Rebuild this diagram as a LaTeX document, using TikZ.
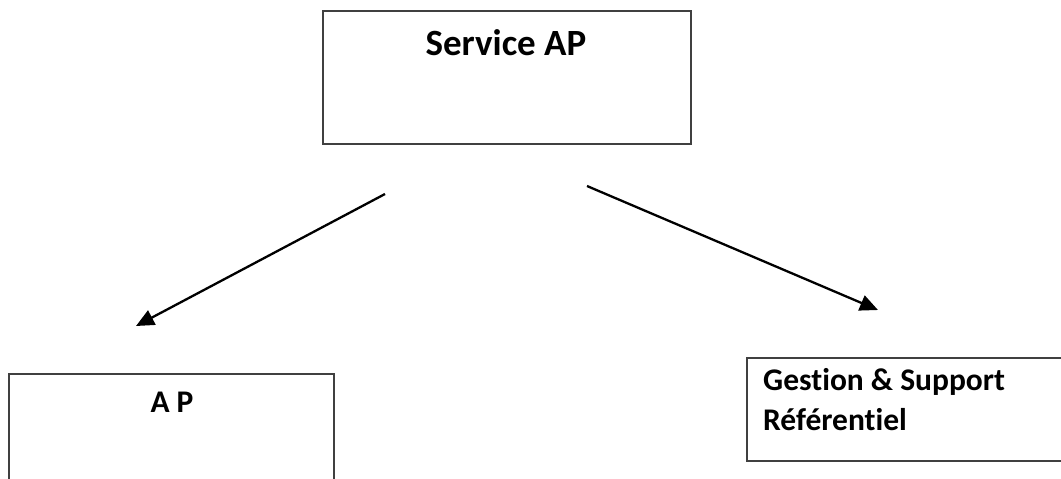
\documentclass[tikz,border=0pt]{standalone}
\usepackage{fontspec}
\setmainfont{Carlito}[Ligatures=NoCommon]
\usetikzlibrary{arrows.meta}
\definecolor{boxgray}{HTML}{404040}
\begin{document}
\begin{tikzpicture}[x=1pt,y=-1pt,
  box/.style={draw=boxgray, line width=1.6pt, rectangle, inner sep=0pt, anchor=north west},
  title/.style={font=\bfseries\fontsize{37}{40}\selectfont, inner sep=0pt, anchor=base},
  label/.style={font=\bfseries\fontsize{31.5}{36}\selectfont, inner sep=0pt},
  link/.style={line width=2.3pt, -{Triangle[length=18pt,width=16pt]}}]
  % page area
  \useasboundingbox (0,0) rectangle (1061,479);
  \fill[white] (0,0) rectangle (1061,479);

  % boxes
  \node[box, minimum width=368pt, minimum height=133pt] (service) at (322,10) {};
  \node[box, minimum width=325pt, minimum height=130pt] (ap) at (8,373) {};
  \node[box, minimum width=329pt, minimum height=103pt] (gestion) at (746,357) {};

  % box texts
  \node[title] (serviceT) at (506,55) {Service AP};
  \node[label, anchor=base] (apT) at (172,412) {A P};
  \node[label, anchor=base west] (gestT1) at (763,390) {Gestion \& Support};
  \node[label, anchor=base west] (gestT2) at (763,430) {Référentiel};

  % arrow ends
  \coordinate (s1) at (385,194);
  \coordinate (t1) at (136,326);
  \coordinate (s2) at (587,186);
  \coordinate (t2) at (878,310);

  \draw[link] (s1) -- (t1);
  \draw[link] (s2) -- (t2);
\end{tikzpicture}
\end{document}
